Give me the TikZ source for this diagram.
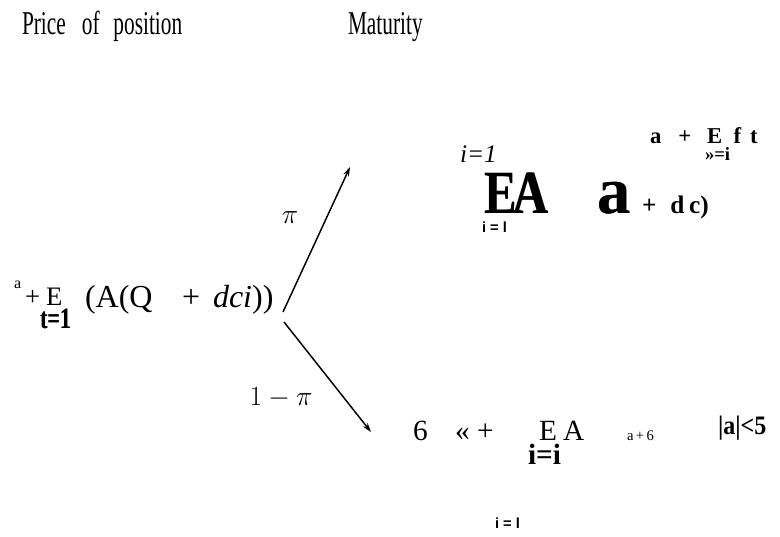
\documentclass[tikz,border=0pt]{standalone}
\usepackage{fontspec}
\setmainfont{Liberation Serif}[BoldFont={Liberation Serif Bold},ItalicFont={Liberation Serif Italic},BoldItalicFont={Liberation Serif Bold Italic}]
\newfontfamily\sansb{Liberation Sans Bold}
\usetikzlibrary{arrows.meta}
\newcommand\heavy[1]{\makebox[0pt][l]{#1}\kern0.35pt#1}
\begin{document}
\begin{tikzpicture}[x=0.75pt,y=-0.75pt,
  txt/.style={anchor=base west,inner sep=0pt,outer sep=0pt},
  arr/.style={line width=1.1pt,-{Stealth[length=7pt,width=4.5pt]}},
  fs/.style={font=\fontsize{#1}{#1}\selectfont}]
\useasboundingbox (0,0) rectangle (780,536);
% titles
\node[txt,fs=25] (title1) at (22,34) {\scalebox{0.64}[1]{Price\hspace{0.75em}of\hspace{0.65em}position}};
\node[txt,fs=25] (title2) at (348,34) {\scalebox{0.64}[1]{Maturity}};
% left formula
\node[txt,fs=12] (sa) at (14,288) {a};
\node[txt,fs=20] (lplus) at (25,305) {+};
\node[txt,fs=20] (lE) at (46,305) {E};
\node[txt,fs=22] (lt) at (40,328) {\scalebox{0.75}[1]{\bfseries\heavy{t=1}}};
\node[txt,fs=24] (lA) at (85,307) {(A(Q};
\node[txt,fs=24] (lp2) at (182,307) {+};
\node[txt,fs=24] (ld) at (213,307) {\textit{dci}))};
% arrows
\coordinate (s1) at (283,312);
\coordinate (e1) at (350,167);
\coordinate (s2) at (284,322);
\coordinate (e2) at (371,432);
\draw[arr] (s1) -- (e1);
\draw[arr] (s2) -- (e2);
\node[fs=20,inner sep=0pt] (pi) at (290,218) {$\pi$};
\node[fs=21,inner sep=0pt] (ompi) at (281,398) {$1-\pi$};
% upper right
\node[txt,fs=19] (ui) at (460,162) {\textit{i=1}};
\node[txt,fs=46] (uEA) at (484,213) {\scalebox{0.8}[1]{\bfseries\heavy{E\kern-0.08em A}}};
\node[txt,fs=11] (uil) at (482,232) {\sansb i = l};
\node[txt,fs=50] (ua) at (597,213) {\bfseries\heavy{a}};
\node[txt,fs=19] (udc) at (642,213) {\bfseries +\hspace{0.55em}d\hspace{0.18em}c)};
\node[txt,fs=17] (uaE) at (650,143) {\bfseries a\hspace{0.75em}+\hspace{0.7em}E\hspace{0.5em}f\hspace{0.4em}t};
\node[txt,fs=14] (usub) at (705,160) {\bfseries »=i};
% lower right
\node[txt,fs=22] (l6) at (413,440) {6};
\node[txt,fs=22] (lq) at (455,440) {«\hspace{0.25em}+};
\node[txt,fs=22] (lE2) at (539,440) {E};
\node[txt,fs=22] (lA2) at (563,440) {A};
\node[txt,fs=22] (lii) at (528,464) {\bfseries i=i};
\node[txt,fs=11] (la6) at (627,440) {a\,+\,6};
\node[txt,fs=20] (labs) at (718,434) {\bfseries\scalebox{0.9}[1]{|a|<5}};
\node[txt,fs=11] (lil) at (495,528) {\sansb i = l};
\end{tikzpicture}
\end{document}
